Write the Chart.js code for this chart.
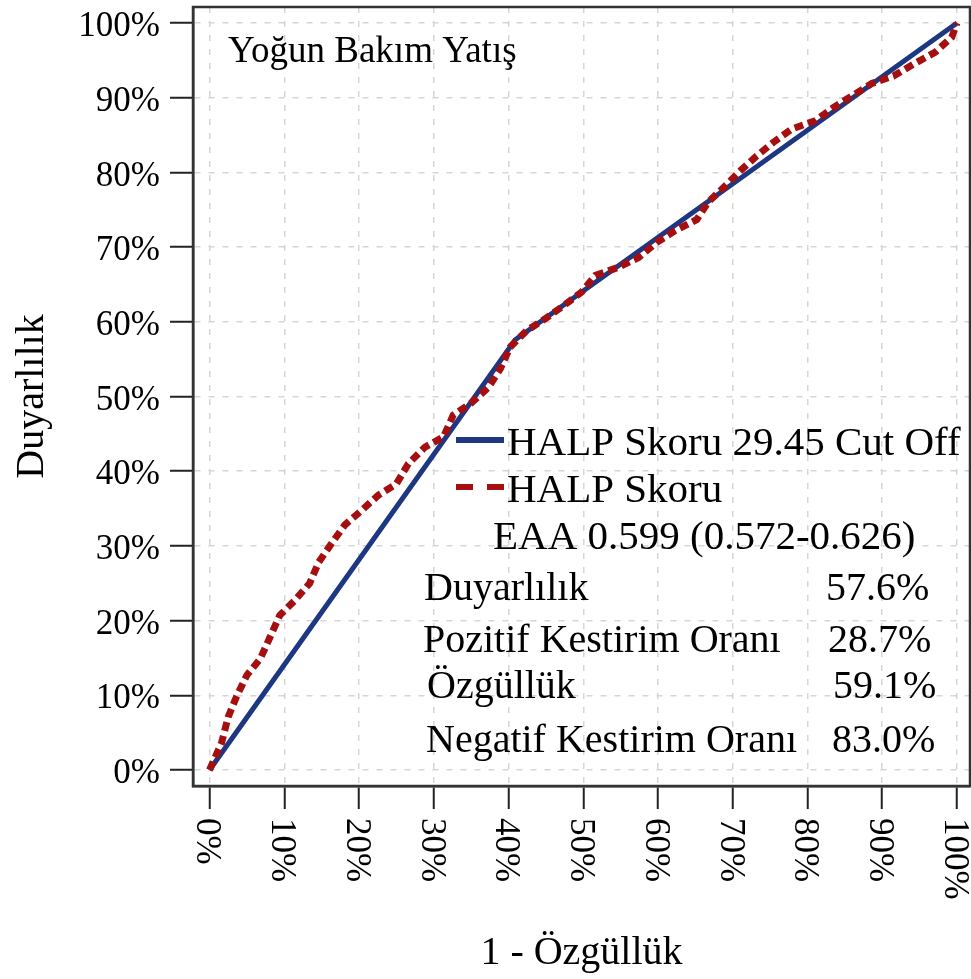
<!DOCTYPE html>
<html>
<head>
<meta charset="utf-8">
<script src="https://cdn.jsdelivr.net/npm/chart.js@4"></script>
<style>
  html, body { margin: 0; padding: 0; background: #fff; }
  #wrap { width: 971px; height: 979px; }
</style>
</head>
<body>
<div id="wrap"><canvas id="rocChart"></canvas></div>
<script>
// ROC curve, Yoğun Bakım Yatış

const panelTitle = "Yoğun Bakım Yatış";
const xTickValues = [0, 10, 20, 30, 40, 50, 60, 70, 80, 90, 100];
const yTickValues = [0, 10, 20, 30, 40, 50, 60, 70, 80, 90, 100];

// cut off line: (0,0) -> (1 - spec, sens) -> (100,100)
const cutoffLabel = "HALP Skoru 29.45 Cut Off";
const cutoffX = [0, 40.9, 100];
const cutoffY = [0, 57.6, 100];

// full ROC curve
const rocLabel = "HALP Skoru";
const rocX = [0, 1.6, 2.5, 3.6, 5.0, 6.8, 8.1, 9.4, 11.4, 13.4, 14.6, 16.3, 18.1, 20.4, 22.6, 25.0,
  26.6, 28.8, 31.3, 32.6, 35.1, 37.3, 38.9, 40.2, 42.4, 44.9, 47.3, 49.8, 51.6, 54.7, 57.4, 59.8,
  62.3, 65.2, 66.7, 69.0, 71.0, 73.2, 75.4, 77.9, 81.0, 83.5, 85.9, 88.6, 91.5, 94.2, 97.1, 99.3, 100];
const rocY = [0, 3.6, 7.1, 9.8, 12.7, 14.9, 17.8, 20.7, 22.7, 25.0, 27.8, 30.3, 32.8, 34.8, 36.8, 38.3,
  41.0, 43.2, 44.6, 47.5, 49.2, 51.2, 53.7, 56.6, 58.8, 60.4, 62.1, 64.0, 66.2, 67.3, 68.6, 70.6,
  72.2, 73.7, 76.0, 78.2, 80.2, 82.2, 84.0, 85.8, 86.9, 88.7, 90.2, 91.9, 92.9, 94.5, 96.1, 98.1, 100];

const aucText = "EAA 0.599 (0.572-0.626)";
const statLabels = ["Duyarlılık", "Pozitif Kestirim Oranı", "Özgüllük", "Negatif Kestirim Oranı"];
const statValues = ["57.6%", "28.7%", "59.1%", "83.0%"];

const SERIF = '"Liberation Serif", "Times New Roman", serif';
const BLUE = "#1d3783";
const RED = "#a50f0f";

Chart.defaults.font.family = SERIF;
Chart.defaults.color = "#000";

const toPoints = (xs, ys) => xs.map((x, i) => ({ x, y: ys[i] }));

// x tick labels read top-to-bottom, which Chart.js can't rotate to
const xTickLabels = {
  id: "xTickLabels",
  afterDraw(chart) {
    const { ctx, scales: { x } } = chart;
    ctx.save();
    ctx.font = `35px ${SERIF}`;
    ctx.fillStyle = "#000";
    ctx.textAlign = "left";
    ctx.textBaseline = "middle";
    x.ticks.forEach(t => {
      ctx.save();
      ctx.translate(x.getPixelForValue(t.value) - 3, x.top + 32);
      ctx.rotate(Math.PI / 2);
      ctx.fillText(t.value + "%", 0, 0);
      ctx.restore();
    });
    ctx.restore();
  }
};

// box around the plot area
const frame = {
  id: "frame",
  afterDraw(chart) {
    const { ctx, chartArea: a } = chart;
    ctx.save();
    ctx.strokeStyle = "#333";
    ctx.lineWidth = 2.5;
    ctx.strokeRect(a.left, a.top, a.right - a.left, a.bottom - a.top);
    ctx.restore();
  }
};

// title, legend and statistics written inside the plot
const insideText = {
  id: "insideText",
  afterDatasetsDraw(chart) {
    const ctx = chart.ctx;
    ctx.save();
    ctx.fillStyle = "#000";
    ctx.textBaseline = "alphabetic";
    ctx.textAlign = "left";

    ctx.font = `37px ${SERIF}`;
    ctx.fillText(panelTitle, 228, 62);

    ctx.font = `41px ${SERIF}`;
    const legendRows = [
      { ds: chart.data.datasets[1], y: 455 },
      { ds: chart.data.datasets[0], y: 502 }
    ];
    legendRows.forEach(({ ds, y }) => {
      ctx.save();
      ctx.strokeStyle = ds.borderColor;
      ctx.lineWidth = 6;
      ctx.setLineDash(ds.borderDash && ds.borderDash.length ? [17, 14] : []);
      ctx.beginPath();
      ctx.moveTo(456, y - 15);
      ctx.lineTo(504, y - 15);
      ctx.stroke();
      ctx.restore();
      ctx.fillText(ds.label, 507, y);
    });

    ctx.fillText(aucText, 493, 549);

    ctx.font = `40px ${SERIF}`;
    const rowY = [600, 652, 698, 752];
    const labelX = [424, 423, 427, 426];
    const valueX = [826, 828, 833, 832];
    statLabels.forEach((s, i) => {
      ctx.fillText(s, labelX[i], rowY[i]);
      ctx.fillText(statValues[i], valueX[i], rowY[i]);
    });
    ctx.restore();
  }
};

const gridCommon = {
  color: "#d6d6d6",
  lineWidth: 1.5,
  tickLength: 23,
  tickColor: "#222",
  tickWidth: 2,
  tickBorderDash: []
};

new Chart(document.getElementById("rocChart").getContext("2d"), {
  type: "line",
  data: {
    datasets: [
      {
        label: rocLabel,
        data: toPoints(rocX, rocY),
        borderColor: RED,
        borderWidth: 7,
        borderDash: [9, 5],
        pointRadius: 0,
        tension: 0
      },
      {
        label: cutoffLabel,
        data: toPoints(cutoffX, cutoffY),
        borderColor: BLUE,
        borderWidth: 5,
        pointRadius: 0,
        tension: 0
      }
    ]
  },
  options: {
    responsive: true,
    maintainAspectRatio: false,
    animation: false,
    layout: { padding: { top: 7, right: 1, left: 0, bottom: 0 } },
    plugins: { legend: { display: false }, tooltip: { enabled: false } },
    scales: {
      x: {
        type: "linear",
        min: -2.21,
        max: 101.74,
        afterBuildTicks: s => { s.ticks = xTickValues.map(v => ({ value: v })); },
        afterFit: s => { s.height = 193; s.paddingLeft = 0; s.paddingRight = 0; },
        ticks: { display: false },
        grid: gridCommon,
        border: { display: true, color: "#333", width: 2.5, dash: [6, 8] },
        title: {
          display: true,
          text: "1 - Özgüllük",
          font: { size: 40 },
          padding: { top: 0, bottom: 2 }
        }
      },
      y: {
        min: -2.14,
        max: 102.14,
        afterBuildTicks: s => { s.ticks = yTickValues.map(v => ({ value: v })); },
        afterFit: s => { s.width = 193; s.paddingTop = 0; s.paddingBottom = 0; },
        ticks: {
          font: { size: 35 },
          padding: 10,
          labelOffset: 4,
          callback: v => v + "%"
        },
        grid: gridCommon,
        border: { display: true, color: "#333", width: 2.5, dash: [6, 8] },
        title: {
          display: true,
          text: "Duyarlılık",
          font: { size: 40 },
          padding: { top: 8, bottom: 0 }
        }
      }
    }
  },
  plugins: [xTickLabels, frame, insideText]
});
</script>
</body>
</html>
